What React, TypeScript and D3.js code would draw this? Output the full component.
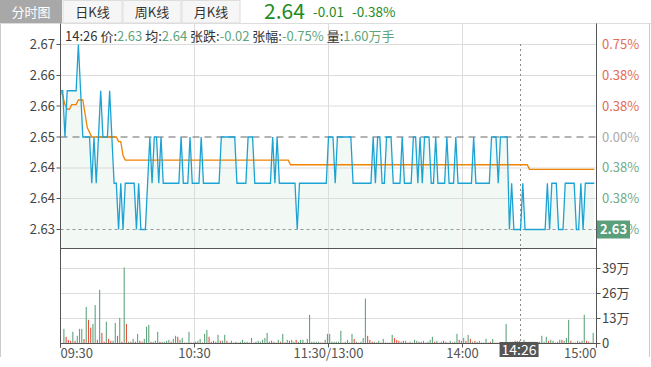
import React from 'react'
import * as d3 from 'd3'

// 分时数据: 每分钟价格 (09:30 起, 240 个点)
const prevClose = 2.65
const prices = [
	2.66, 2.66, 2.65, 2.66, 2.66, 2.66, 2.66, 2.66, 2.67, 2.66,
	2.65, 2.65, 2.65, 2.65, 2.64, 2.65, 2.64, 2.65, 2.66, 2.65,
	2.65, 2.65, 2.66, 2.65, 2.64, 2.64, 2.63, 2.64, 2.63, 2.64,
	2.64, 2.64, 2.64, 2.64, 2.63, 2.64, 2.63, 2.63, 2.63, 2.64,
	2.65, 2.64, 2.65, 2.65, 2.64, 2.65, 2.64, 2.64, 2.64, 2.64,
	2.64, 2.64, 2.64, 2.64, 2.65, 2.64, 2.64, 2.64, 2.65, 2.64,
	2.64, 2.64, 2.64, 2.65, 2.64, 2.64, 2.64, 2.64, 2.64, 2.64,
	2.64, 2.64, 2.65, 2.65, 2.65, 2.65, 2.65, 2.65, 2.65, 2.64,
	2.64, 2.64, 2.64, 2.64, 2.65, 2.65, 2.65, 2.64, 2.64, 2.64,
	2.64, 2.64, 2.64, 2.64, 2.64, 2.65, 2.64, 2.65, 2.64, 2.64,
	2.64, 2.64, 2.64, 2.64, 2.64, 2.64, 2.63, 2.64, 2.64, 2.64,
	2.64, 2.64, 2.64, 2.64, 2.64, 2.64, 2.64, 2.64, 2.64, 2.64,
	2.65, 2.65, 2.65, 2.64, 2.65, 2.65, 2.65, 2.65, 2.65, 2.65,
	2.65, 2.64, 2.64, 2.64, 2.64, 2.64, 2.64, 2.64, 2.64, 2.64,
	2.65, 2.64, 2.65, 2.65, 2.64, 2.64, 2.65, 2.65, 2.65, 2.64,
	2.64, 2.64, 2.64, 2.65, 2.64, 2.64, 2.64, 2.64, 2.65, 2.65,
	2.64, 2.65, 2.64, 2.65, 2.65, 2.65, 2.64, 2.64, 2.65, 2.64,
	2.64, 2.64, 2.64, 2.65, 2.64, 2.64, 2.64, 2.65, 2.64, 2.64,
	2.64, 2.64, 2.64, 2.64, 2.64, 2.65, 2.64, 2.64, 2.64, 2.64,
	2.64, 2.64, 2.64, 2.65, 2.65, 2.65, 2.64, 2.65, 2.65, 2.65,
	2.65, 2.63, 2.64, 2.63, 2.63, 2.63, 2.63, 2.64, 2.63, 2.63,
	2.63, 2.63, 2.63, 2.63, 2.63, 2.63, 2.63, 2.63, 2.64, 2.63,
	2.64, 2.64, 2.64, 2.63, 2.63, 2.63, 2.64, 2.64, 2.64, 2.64,
	2.64, 2.63, 2.63, 2.64, 2.63, 2.64, 2.64, 2.64, 2.64, 2.64
]

// 均价
const avgPrices = [
	2.66, 2.659, 2.657, 2.656, 2.656, 2.657, 2.657, 2.657, 2.658, 2.658,
	2.658, 2.655, 2.652, 2.651, 2.65, 2.65, 2.65, 2.65, 2.65, 2.65,
	2.65, 2.65, 2.65, 2.65, 2.65, 2.65, 2.649, 2.649, 2.646, 2.645,
	2.645, 2.645, 2.645, 2.645, 2.645, 2.645, 2.645, 2.645, 2.645, 2.645,
	2.645, 2.645, 2.645, 2.645, 2.645, 2.645, 2.645, 2.645, 2.645, 2.645,
	2.645, 2.645, 2.645, 2.645, 2.645, 2.645, 2.645, 2.645, 2.645, 2.645,
	2.645, 2.645, 2.645, 2.645, 2.645, 2.645, 2.645, 2.645, 2.645, 2.645,
	2.645, 2.645, 2.645, 2.645, 2.645, 2.645, 2.645, 2.645, 2.645, 2.645,
	2.645, 2.645, 2.645, 2.645, 2.645, 2.645, 2.645, 2.645, 2.645, 2.645,
	2.645, 2.645, 2.645, 2.645, 2.645, 2.645, 2.645, 2.645, 2.645, 2.645,
	2.645, 2.645, 2.645, 2.644, 2.644, 2.644, 2.644, 2.644, 2.644, 2.644,
	2.644, 2.644, 2.644, 2.644, 2.644, 2.644, 2.644, 2.644, 2.644, 2.644,
	2.644, 2.644, 2.644, 2.644, 2.644, 2.644, 2.644, 2.644, 2.644, 2.644,
	2.644, 2.644, 2.644, 2.644, 2.644, 2.644, 2.644, 2.644, 2.644, 2.644,
	2.644, 2.644, 2.644, 2.644, 2.644, 2.644, 2.644, 2.644, 2.644, 2.644,
	2.644, 2.644, 2.644, 2.644, 2.644, 2.644, 2.644, 2.644, 2.644, 2.644,
	2.644, 2.644, 2.644, 2.644, 2.644, 2.644, 2.644, 2.644, 2.644, 2.644,
	2.644, 2.644, 2.644, 2.644, 2.644, 2.644, 2.644, 2.644, 2.644, 2.644,
	2.644, 2.644, 2.644, 2.644, 2.644, 2.644, 2.644, 2.644, 2.644, 2.644,
	2.644, 2.644, 2.644, 2.644, 2.644, 2.644, 2.644, 2.644, 2.644, 2.644,
	2.644, 2.644, 2.644, 2.644, 2.644, 2.644, 2.644, 2.644, 2.644, 2.644,
	2.643, 2.643, 2.643, 2.643, 2.643, 2.643, 2.643, 2.643, 2.643, 2.643,
	2.643, 2.643, 2.643, 2.643, 2.643, 2.643, 2.643, 2.643, 2.643, 2.643,
	2.643, 2.643, 2.643, 2.643, 2.643, 2.643, 2.643, 2.643, 2.643, 2.643
]

// 成交量 (万), 从 09:31 开始
const volumes = [
	7.6, 3.5, 1.9, 1.4, 6.1, 1.4, 4, 7.6, 7.6, 2.3,
	19, 12.3, 8.3, 10.2, 20, 1.9, 27.9, 5.5, 0.9, 11.3,
	2.4, 1.4, 1.4, 10.7, 4, 13.3, 0.9, 39.5, 10.2, 0.9,
	0.9, 2.4, 0.9, 5, 1.4, 0.9, 2.4, 8.7, 9.7, 0.9,
	0.9, 1.4, 6.1, 0.9, 0.9, 0.9, 1.4, 1.9, 0.9, 2.4,
	4, 3.5, 1.9, 2.9, 0.5, 0.5, 6.1, 0.5, 0.5, 0.9,
	1.4, 2.4, 0.5, 5, 7.1, 3.5, 0.9, 1.4, 0.9, 4.5,
	1.4, 1.4, 4.5, 1.4, 0.5, 1.4, 0.5, 0.9, 0.5, 0.9,
	1.9, 0.9, 0.9, 0.5, 2.9, 0.5, 0.9, 1.4, 0.9, 1.9,
	2.9, 5.5, 0.9, 1.4, 0.9, 0.5, 1.9, 0.9, 5, 0.5,
	1.9, 1.4, 1.9, 0.9, 1.9, 0.9, 1.9, 1.9, 0.5, 2.4,
	14.9, 0.9, 0.9, 0.9, 0.9, 0.5, 0.5, 1.9, 5,
	5, 0.9, 0.9, 0.9, 0.9, 6.6, 0.5, 0.9, 1.9, 0.5,
	5, 2.4, 0.9, 0.5, 0.9, 2.9, 23.4, 4, 1.9, 0.9,
	0.9, 0.5, 1.4, 0.5, 2.4, 0.5, 0.5, 0.5, 4.5, 2.9,
	1.9, 1.4, 0.9, 1.4, 1.4, 0.5, 0.9, 0.5, 1.9, 1.4,
	0.9, 0.9, 1.4, 0.5, 0.9, 1.9, 3.5, 0.9, 1.4, 0.5,
	0.9, 1.4, 0.9, 0.5, 1.4, 0.5, 0.9, 5, 1.9, 1.4,
	2.9, 1.4, 4.5, 2.4, 0.9, 1.4, 0.9, 1.4, 0.5, 0.5,
	2.4, 0.5, 0.9, 2.4, 0.5, 0.5, 0.5, 0.5, 0.5, 10.2,
	0.5, 0.9, 0.9, 1.4, 1.4, 1.4, 0.9, 1.9, 0.9, 0.9,
	0.9, 0.9, 0.9, 0.5, 0.9, 4, 0.9, 3.5, 1.4, 1.9,
	1.4, 0.5, 0.9, 1.9, 1.9, 1.4, 2.9, 12.3, 1.4, 0.5,
	0.5, 1.4, 0.9, 1.4, 14.9, 1.4, 0.9, 0.5, 5.5
]

// 1 = 上涨(红), -1 = 下跌(绿)
const volSides = [
	-1, 1, 1, 1, -1, 1, -1, -1, -1, 1,
	-1, 1, 1, -1, -1, 1, -1, 1, 1, -1,
	1, 1, -1, -1, 1, -1, 1, -1, 1, -1,
	1, -1, 1, -1, 1, 1, -1, -1, -1, 1,
	-1, -1, -1, 1, -1, -1, -1, -1, 1, -1,
	-1, 1, -1, -1, 1, -1, -1, 1, -1, 1,
	-1, -1, 1, -1, -1, 1, 1, 1, -1, -1,
	1, -1, -1, 1, 1, -1, 1, -1, 1, -1,
	-1, -1, -1, 1, -1, 1, -1, -1, -1, -1,
	-1, -1, 1, 1, -1, 1, -1, 1, -1, 1,
	-1, 1, -1, -1, 1, -1, -1, -1, -1, -1,
	-1, -1, -1, -1, -1, 1, 1, -1, -1,
	-1, -1, -1, -1, -1, -1, 1, -1, -1, 1,
	-1, 1, -1, 1, -1, -1, -1, 1, 1, 1,
	-1, 1, -1, 1, -1, 1, -1, 1, -1, 1,
	1, 1, -1, 1, -1, 1, -1, 1, -1, -1,
	1, -1, -1, 1, -1, -1, -1, 1, -1, 1,
	-1, 1, -1, 1, -1, 1, -1, -1, 1, -1,
	-1, 1, -1, 1, -1, 1, -1, -1, -1, 1,
	-1, -1, 1, -1, -1, 1, -1, -1, 1, -1,
	1, -1, -1, 1, -1, -1, -1, -1, 1, -1,
	-1, -1, -1, 1, -1, -1, -1, -1, 1, -1,
	-1, 1, -1, -1, 1, -1, -1, -1, 1, -1,
	1, -1, 1, -1, -1, 1, 1, -1, -1
]

const priceTicks = [2.67, 2.6633, 2.6567, 2.65, 2.6433, 2.6367, 2.63]
const priceTickLabels = ['2.67', '2.66', '2.66', '2.65', '2.64', '2.64', '2.63']
const pctTickLabels = ['0.75%', '0.38%', '0.38%', '0.00%', '0.38%', '0.38%', '0.75%']
const volTicks = [0, 13, 26, 39]
const volTickLabels = ['0', '13万', '26万', '39万']
const timeTicks = [0, 60, 120, 180, 240]
const timeLabels = ['09:30', '10:30', '11:30/13:00', '14:00', '15:00']
const tabs = ['分时图', '日K线', '周K线', '月K线']

const cursorIndex = 206
const cursorTime = '14:26'
const cursorPrice = 2.63
const lastPrice = '2.64'
const lastChange = '-0.01'
const lastPct = '-0.38%'
const infoItems = [
	{ label: '价:', value: '2.63' },
	{ label: '均:', value: '2.64' },
	{ label: '张跌:', value: '-0.02' },
	{ label: '张幅:', value: '-0.75%' },
	{ label: '量:', value: '1.60万手' }
]

const W = 651
const H = 367
const left = 60.5
const right = 596.5
const frameTop = 23.5
const priceBottom = 248.5
const volBottom = 343.5

const FONT = '"Noto Sans CJK SC", "Noto Sans", sans-serif'
const RED = '#e8503e'
const GREEN = '#5fa57c'

const App = () => {
	const x = d3.scaleLinear().domain([0, 240]).range([left, right])
	const y = d3.scaleLinear().domain([2.63, 2.67]).range([229.5, 44.5])
	const yv = d3.scaleLinear().domain([0, 39]).range([volBottom, 268.5])

	const line = d3
		.line<number>()
		.x((d, i) => x(i))
		.y((d) => y(d))
	const area = d3
		.area<number>()
		.x((d, i) => x(i))
		.y0(priceBottom)
		.y1((d) => y(d))

	const tabW = [62, 60, 59, 59]
	let tx = 0

	return (
		<svg width={W} height={H} style={{ display: 'block', fontFamily: FONT, background: '#fff' }}>
			<style>{`body{margin:0}`}</style>
			{/* 顶部标签 */}
			{tabs.map((t, i) => {
				const x0 = tx
				tx += tabW[i] + (i === 0 ? 0.5 : 0)
				return (
					<g key={t}>
						<rect
							x={x0 + 0.5}
							y={0.5}
							width={tabW[i] - 1}
							height={22.5}
							fill={i === 0 ? '#a8a8a8' : '#f6f6f6'}
							stroke={i === 0 ? '#a8a8a8' : '#dddddd'}
						/>
						<text
							x={x0 + tabW[i] / 2}
							y={16.5}
							textAnchor="middle"
							fontSize="13"
							fill={i === 0 ? '#fff' : '#333'}
						>
							{t}
						</text>
					</g>
				)
			})}
			<text x={264} y={19} fontSize="21" fill="#1e8c1e">
				{lastPrice}
			</text>
			<text x={313} y={17} fontSize="13.5" fill="#1e8c1e">
				{lastChange}
			</text>
			<text x={352} y={17} fontSize="13.5" fill="#1e8c1e">
				{lastPct}
			</text>

			{/* 外框 */}
			<line x1={0} x2={651} y1={frameTop} y2={frameTop} stroke="#dddddd" />
			<line x1={0.5} x2={0.5} y1={frameTop} y2={357} stroke="#cccccc" />
			<line x1={649.5} x2={649.5} y1={frameTop} y2={357} stroke="#cccccc" />

			{/* 面积 */}
			<path d={area(prices) || ''} fill="#f2f8f3" />

			{/* 网格 */}
			{priceTicks.map((t, i) =>
				i === 3 || i === 6 ? null : (
					<line key={'pg' + i} x1={left} x2={right} y1={y(t)} y2={y(t)} stroke="#dcdcdc" />
				)
			)}
			{volTicks.slice(1).map((t) => (
				<line key={'vg' + t} x1={left} x2={right} y1={yv(t)} y2={yv(t)} stroke="#dcdcdc" />
			))}
			{timeTicks.slice(1, 4).map((t) => (
				<line key={'tg' + t} x1={x(t)} x2={x(t)} y1={frameTop} y2={volBottom} stroke="#dcdcdc" />
			))}

			{/* 昨收线 */}
			<line
				x1={left}
				x2={right}
				y1={y(prevClose)}
				y2={y(prevClose)}
				stroke="#666"
				strokeDasharray="7,5"
			/>
			{/* 十字光标 */}
			<line
				x1={left}
				x2={right}
				y1={y(cursorPrice)}
				y2={y(cursorPrice)}
				stroke="#999"
				strokeDasharray="3,3"
			/>
			<line
				x1={Math.round(x(cursorIndex)) - 0.5}
				x2={Math.round(x(cursorIndex)) - 0.5}
				y1={44}
				y2={volBottom}
				stroke="#888"
				strokeDasharray="2,3"
			/>

			{/* 价格线 / 均价线 */}
			<path d={line(avgPrices) || ''} fill="none" stroke="#f08300" strokeWidth={1.3} />
			<path d={line(prices) || ''} fill="none" stroke="#1ca3d3" strokeWidth={1.3} />

			{/* 成交量 */}
			{volumes.map((v, k) => (
				<rect
					key={'v' + k}
					x={x(k + 1.5) - 0.5}
					y={yv(v)}
					width={1.1}
					height={volBottom - yv(v)}
					fill={volSides[k] > 0 ? RED : GREEN}
				/>
			))}

			{/* 坐标轴 */}
			<line x1={left} x2={left} y1={frameTop} y2={volBottom + 4} stroke="#555" />
			<line x1={right} x2={right} y1={frameTop} y2={volBottom + 4} stroke="#555" />
			<line x1={left} x2={right} y1={priceBottom} y2={priceBottom} stroke="#555" />
			<line x1={left} x2={right} y1={volBottom} y2={volBottom} stroke="#555" />
			{priceTicks.map((t, i) => (
				<g key={'pt' + i}>
					<line x1={left - 4} x2={left} y1={y(t)} y2={y(t)} stroke="#555" />
					<text x={55} y={y(t) + 4.5} textAnchor="end" fontSize="13" fill="#444">
						{priceTickLabels[i]}
					</text>
					<text
						x={602}
						y={y(t) + 4.5}
						fontSize="13"
						fill={i < 3 ? '#e56a58' : i === 3 ? '#aaaaaa' : '#6fac8e'}
					>
						{pctTickLabels[i]}
					</text>
				</g>
			))}
			{volTicks.map((t, i) => (
				<g key={'vt' + t}>
					<line x1={right} x2={right + 4} y1={yv(t)} y2={yv(t)} stroke="#555" />
					<text x={602} y={yv(t) + 4.5} fontSize="13" fill="#444">
						{volTickLabels[i]}
					</text>
				</g>
			))}
			{timeTicks.map((t, i) => (
				<g key={'tt' + t}>
					<line x1={x(t)} x2={x(t)} y1={volBottom} y2={volBottom + 4} stroke="#555" />
					<text
						x={x(t)}
						y={358}
						fontSize="13"
						fill="#555"
						textAnchor={i === 0 ? 'start' : i === timeTicks.length - 1 ? 'end' : 'middle'}
					>
						{timeLabels[i]}
					</text>
				</g>
			))}

			{/* 光标标签 */}
			<rect x={right + 0.5} y={y(cursorPrice) - 9} width={33} height={18} fill="#5b9e7b" />
			<text
				x={right + 17}
				y={y(cursorPrice) + 4.5}
				textAnchor="middle"
				fontSize="13"
				fontWeight="bold"
				fill="#fff"
			>
				{d3.format('.2f')(cursorPrice)}
			</text>
			<rect x={x(cursorIndex) - 21} y={342} width={39} height={15} fill="#555" />
			<text
				x={x(cursorIndex) - 1.5}
				y={354.5}
				textAnchor="middle"
				fontSize="14"
				fill="#fff"
			>
				{cursorTime}
			</text>

			{/* 信息栏 */}
			<text x={65} y={41} fontSize="13" fill="#333">
				<tspan>{cursorTime} </tspan>
				{infoItems.map((it, i) => (
					<React.Fragment key={it.label}>
						<tspan fill="#333">{it.label}</tspan>
						<tspan fill={GREEN}>{it.value}</tspan>
						{i < infoItems.length - 1 ? <tspan> </tspan> : null}
					</React.Fragment>
				))}
			</text>
		</svg>
	)
}

export default App
